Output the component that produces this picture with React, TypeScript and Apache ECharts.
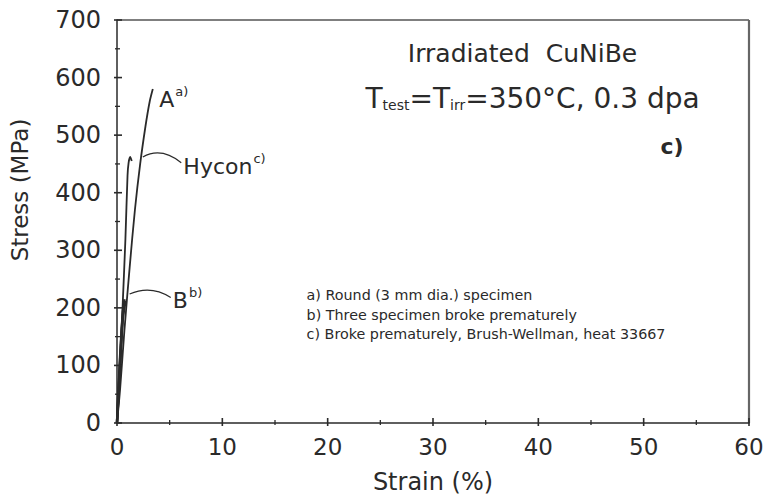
import React, { useEffect, useRef } from "react";
import * as echarts from "echarts";

// Stress–strain curves, irradiated CuNiBe tested at 350 °C
const curveA: [number, number][] = [
  [0, 0], [0.3, 60], [0.7, 160], [1.2, 270], [1.7, 370], [2.2, 450], [2.7, 515], [3.1, 558], [3.4, 580],
];
const curveHycon: [number, number][] = [
  [0, 0], [0.3, 100], [0.55, 210], [0.8, 320], [1.0, 430], [1.1, 452], [1.25, 462], [1.4, 455],
];
const curveB1: [number, number][] = [[0, 0], [0.3, 110], [0.45, 160], [0.6, 200], [0.72, 215]];
const curveB2: [number, number][] = [[0, 0], [0.35, 120], [0.55, 180], [0.8, 212]];
const curveB3: [number, number][] = [[0, 0], [0.25, 100], [0.45, 165], [0.62, 205]];

const xTicks = [0, 10, 20, 30, 40, 50, 60];
const xMinorTicks = [5, 15, 25, 35, 45, 55];
const yTicks = [0, 100, 200, 300, 400, 500, 600, 700];
const yMinorTicks = [50, 150, 250, 350, 450, 550, 650];

const notes = [
  "a) Round (3 mm dia.) specimen",
  "b) Three specimen broke prematurely",
  "c) Broke prematurely, Brush-Wellman, heat 33667",
];
const noteStress = [222, 188, 155];

const FONT = "'DejaVu Sans', 'Liberation Sans', sans-serif";
const INK = "#2a2a2a";

const W = 768;
const H = 499;
const GRID = { left: 117, right: 19, top: 20, bottom: 76 };

export default function App() {
  const ref = useRef<HTMLDivElement>(null);

  useEffect(() => {
    if (!ref.current) return;
    const chart = echarts.init(ref.current, undefined, { renderer: "svg" });

    const xMin = xTicks[0];
    const xMax = xTicks[xTicks.length - 1];
    const yMin = yTicks[0];
    const yMax = yTicks[yTicks.length - 1];

    // same linear mapping the grid uses, for placing annotations in data units
    const px = (x: number, y: number) => [
      GRID.left + ((x - xMin) / (xMax - xMin)) * (W - GRID.left - GRID.right),
      H - GRID.bottom - ((y - yMin) / (yMax - yMin)) * (H - GRID.top - GRID.bottom),
    ];

    const line = (data: [number, number][], width: number) => ({
      type: "line",
      data,
      symbol: "none",
      smooth: 0.3,
      lineStyle: { color: INK, width },
      silent: true,
    });

    // tick marks crossing the axes, drawn through the axis scales
    const tickSeries = (values: number[], onX: boolean, major: boolean) => ({
      type: "custom",
      coordinateSystem: "cartesian2d",
      silent: true,
      clip: false,
      z: 5,
      data: values.map((v) => (onX ? [v, yMin] : [xMin, v])),
      renderItem: (_params: any, api: any) => {
        const p = api.coord([api.value(0), api.value(1)]);
        const inner = major ? 5 : 3;
        const outer = major ? 3 : 2;
        const shape = onX
          ? { x1: p[0], y1: p[1] - inner, x2: p[0], y2: p[1] + outer }
          : { x1: p[0] - outer, y1: p[1], x2: p[0] + inner, y2: p[1] };
        return {
          type: "line",
          shape,
          style: { stroke: INK, lineWidth: major ? 1.6 : 1.3 },
        };
      },
    });

    const leader = (a: number[], c: number[], b: number[]) => {
      const p1 = px(a[0], a[1]);
      const cp = px(c[0], c[1]);
      const p2 = px(b[0], b[1]);
      return {
        type: "bezierCurve",
        shape: { x1: p1[0], y1: p1[1], x2: p2[0], y2: p2[1], cpx1: cp[0], cpy1: cp[1] },
        style: { stroke: INK, lineWidth: 1.2, fill: "none" },
        silent: true,
      };
    };

    const label = (x: number, y: number, text: string, sup: string) => {
      const p = px(x, y);
      return {
        type: "text",
        x: p[0],
        y: p[1],
        style: {
          text: `{m|${text}}{s|${sup}}`,
          verticalAlign: "middle",
          rich: {
            m: { fontFamily: FONT, fontSize: 22, fill: INK, color: INK },
            s: { fontFamily: FONT, fontSize: 13, fill: INK, color: INK, verticalAlign: "top", padding: [0, 0, 16, 1] },
          },
        },
        silent: true,
      };
    };

    const noteEls = notes.map((n, i) => {
      const p = px(18, noteStress[i]);
      return {
        type: "text",
        x: p[0],
        y: p[1],
        style: { text: n, fontFamily: FONT, fontSize: 14.3, fill: INK, verticalAlign: "middle" },
        silent: true,
      };
    });

    const centreX = px(38.5, 0)[0];
    const topLeft = px(xMin, yMax);
    const topRight = px(xMax, yMax);
    const bottomRight = px(xMax, yMin);

    chart.setOption({
      animation: false,
      grid: GRID,
      xAxis: {
        type: "value",
        min: xMin,
        max: xMax,
        interval: 10,
        name: "Strain (%)",
        nameLocation: "middle",
        nameGap: 47,
        nameTextStyle: { fontFamily: FONT, fontSize: 24, color: INK },
        axisLine: { show: true, onZero: false, lineStyle: { color: INK, width: 1.5 } },
        axisTick: { show: false },
        splitLine: { show: false },
        axisLabel: { fontFamily: FONT, fontSize: 23, color: INK, margin: 12 },
      },
      yAxis: {
        type: "value",
        min: yMin,
        max: yMax,
        interval: 100,
        axisLine: { show: true, onZero: false, lineStyle: { color: INK, width: 1.5 } },
        axisTick: { show: false },
        splitLine: { show: false },
        axisLabel: { fontFamily: FONT, fontSize: 24, color: INK, margin: 16 },
      },
      series: [
        line(curveA, 1.8),
        line(curveHycon, 1.8),
        line(curveB1, 2.5),
        line(curveB2, 2.5),
        line(curveB3, 2.5),
        tickSeries(xTicks, true, true),
        tickSeries(xMinorTicks, true, false),
        tickSeries(yTicks, false, true),
        tickSeries(yMinorTicks, false, false),
      ],
      graphic: [
        // top and right edges of the frame
        {
          type: "line",
          shape: { x1: topLeft[0], y1: topLeft[1], x2: topRight[0], y2: topRight[1] },
          style: { stroke: "#555", lineWidth: 1.5 },
          silent: true,
        },
        {
          type: "line",
          shape: { x1: topRight[0], y1: topRight[1], x2: bottomRight[0], y2: bottomRight[1] },
          style: { stroke: "#666", lineWidth: 2.2 },
          silent: true,
        },
        leader([2.45, 462], [4.2, 480], [6.1, 452]),
        leader([1.2, 224], [3.2, 240], [5.1, 218]),
        label(4.0, 562, "A", "a)"),
        label(6.3, 446, "Hycon", "c)"),
        label(5.3, 212, "B", "b)"),
        {
          type: "text",
          x: 20,
          y: 190,
          rotation: Math.PI / 2,
          style: {
            text: "Stress (MPa)",
            fontFamily: FONT,
            fontSize: 23,
            fill: INK,
            align: "center",
            verticalAlign: "middle",
          },
          silent: true,
        },
        {
          type: "text",
          x: centreX,
          y: 53,
          style: {
            text: "Irradiated  CuNiBe",
            fontFamily: FONT,
            fontSize: 25,
            fill: INK,
            align: "center",
            verticalAlign: "middle",
          },
          silent: true,
        },
        {
          type: "text",
          x: centreX + 10,
          y: 98,
          style: {
            text: "{t|T}{sub|test}{t|=T}{sub|irr}{t|=350°C, 0.3 dpa}",
            align: "center",
            verticalAlign: "middle",
            rich: {
              t: { fontFamily: FONT, fontSize: 28, fill: INK, color: INK },
              sub: { fontFamily: FONT, fontSize: 14, fill: INK, color: INK, verticalAlign: "bottom", padding: [12, 0, 0, 0] },
            },
          },
          silent: true,
        },
        {
          type: "text",
          x: 672,
          y: 146,
          style: {
            text: "c)",
            fontFamily: FONT,
            fontSize: 22,
            fontWeight: "bold",
            fill: INK,
            align: "center",
            verticalAlign: "middle",
          },
          silent: true,
        },
        ...noteEls,
      ],
    });

    return () => chart.dispose();
  }, []);

  return <div ref={ref} style={{ width: W, height: H, position: "absolute", left: 0, top: 0 }} />;
}
